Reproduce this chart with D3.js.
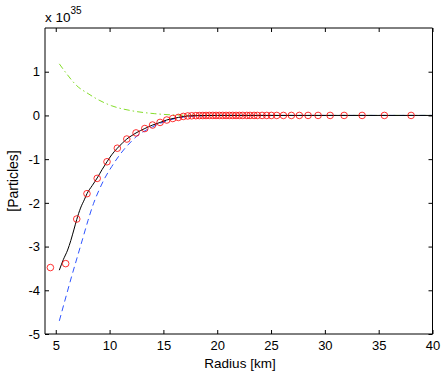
<!DOCTYPE html>
<html><head><meta charset="utf-8">
<script src="https://cdn.jsdelivr.net/npm/d3@7"></script>
<style>
body{margin:0;background:#fff;}
svg{display:block;font-family:"Liberation Sans",Arial,Helvetica,sans-serif;}
</style></head>
<body>
<svg id="chart" width="446" height="374"></svg>
<script>
// Data (units of 10^35 particles)
const circleX = [4.5,5.92,6.95,7.9,8.85,9.76,10.72,11.6,12.46,13.27,13.99,14.69,15.31,15.87,16.39,16.85,17.26,17.63,18.01,18.34,18.66,18.96,19.27,19.59,19.89,20.2,20.51,20.82,21.13,21.44,21.75,22.06,22.37,22.75,23.05,23.42,23.73,24.17,24.6,25.03,25.53,26.15,26.89,27.63,28.44,29.37,30.49,31.79,33.46,35.53,38.01];
const circleY = [-3.48,-3.39,-2.37,-1.79,-1.44,-1.06,-0.75,-0.54,-0.40,-0.30,-0.22,-0.16,-0.105,-0.07,-0.046,-0.023,-0.012,-0.008,-0.005,-0.003,-0.002,-0.001,0,0,0,0,0,0,0,0,0,0,0,0,0,0,0,0,0,0,0,0,0,0,0,0,0,0,0,0,0];
const blackX = [5.33,5.7,6.1,6.4,6.7,6.95,7.3,7.65,7.9,8.4,8.85,9.3,9.76,10.2,10.72,11.2,11.6,12.0,12.46,13.27,14.0,14.7,15.3,15.9,16.4,16.85,17.3,18,19,20,25,40];
const blackY = [-3.54,-3.3,-3.08,-2.86,-2.6,-2.38,-2.12,-1.93,-1.79,-1.6,-1.43,-1.24,-1.06,-0.9,-0.75,-0.63,-0.54,-0.47,-0.40,-0.30,-0.22,-0.16,-0.105,-0.07,-0.045,-0.025,-0.012,-0.005,-0.002,0,0,0];
const blueX = [5.33,6.0,6.5,7.0,7.5,8.0,8.5,9.0,9.5,10.2,10.8,11.3,12.0,12.5,13.3,14.0,14.7,15.5,16.5,17.5,19,20,40];
const blueY = [-4.70,-4.1,-3.66,-3.24,-2.82,-2.4,-2.02,-1.72,-1.46,-1.17,-0.95,-0.79,-0.6,-0.48,-0.35,-0.26,-0.18,-0.11,-0.05,-0.02,-0.005,0,0];
const greenX = [5.33,6.02,6.95,8.0,8.65,10.2,12.06,14.2,16.08,18,20,40];
const greenY = [1.18,0.95,0.68,0.5,0.40,0.22,0.107,0.04,0.01,0.002,0,0];
const xTicks = [5,10,15,20,25,30,35,40];
const yTicks = [-5,-4,-3,-2,-1,0,1];

const svg = d3.select("#chart");
const L=45, R=432.5, T=28, B=334;
const x = d3.scaleLinear().domain([4,40]).range([L,R]);
const y = d3.scaleLinear().domain([-5,2]).range([B,T]);

const g = svg.append("g");
const line = d3.line().x(d=>x(d[0])).y(d=>y(d[1])).curve(d3.curveMonotoneX);
const zip = (a,b)=>a.map((v,i)=>[v,b[i]]);

g.append("path").attr("d", line(zip(greenX,greenY))).attr("fill","none")
 .attr("stroke","#84dd2a").attr("stroke-width",1).attr("stroke-dasharray","6,3,1.5,3");
g.append("path").attr("d", line(zip(blueX,blueY))).attr("fill","none")
 .attr("stroke","#2f55ff").attr("stroke-width",1).attr("stroke-dasharray","6,4");
g.append("path").attr("d", line(zip(blackX,blackY))).attr("fill","none")
 .attr("stroke","#000").attr("stroke-width",1);
g.selectAll("circle.c").data(zip(circleX,circleY)).enter().append("circle")
 .attr("cx",d=>x(d[0])).attr("cy",d=>y(d[1])).attr("r",3.3)
 .attr("fill","none").attr("stroke","#ff0000").attr("stroke-width",0.8);

// axes (MATLAB box style, ticks inward)
const fs = "13px";
const axB = svg.append("g").attr("transform",`translate(0,${B})`)
 .call(d3.axisBottom(x).tickValues(xTicks).tickSize(-4).tickPadding(7).tickFormat(d3.format("d")));
const axT = svg.append("g").attr("transform",`translate(0,${T})`)
 .call(d3.axisTop(x).tickValues(xTicks).tickSize(-4).tickFormat(""));
const axL = svg.append("g").attr("transform",`translate(${L},0)`)
 .call(d3.axisLeft(y).tickValues(yTicks).tickSize(-4).tickPadding(5).tickFormat(d=>d<0?"-"+Math.abs(d):String(d)));
const axR = svg.append("g").attr("transform",`translate(${R},0)`)
 .call(d3.axisRight(y).tickValues(yTicks).tickSize(-4).tickFormat(""));
[axB,axT,axL,axR].forEach(a=>{
  a.select(".domain").attr("stroke","#000").attr("stroke-width",1);
  a.selectAll(".tick line").attr("stroke","#000");
  a.selectAll("text").attr("font-size",fs).attr("fill","#000").attr("font-family","Liberation Sans, Arial, sans-serif");
});
axB.selectAll(".domain").attr("d",`M${L},0H${R}`);
axT.selectAll(".domain").attr("d",`M${L},0H${R}`);
axL.selectAll(".domain").attr("d",`M0,${T}V${B}`);
axR.selectAll(".domain").attr("d",`M0,${T}V${B}`);

svg.append("text").attr("x",240).attr("y",368).attr("text-anchor","middle")
 .attr("font-size","13.5px").text("Radius [km]");
svg.append("text").attr("transform",`translate(18,${(T+B)/2}) rotate(-90)`).attr("text-anchor","middle")
 .attr("font-size","14px").text("[Particles]");
const ex = svg.append("text").attr("x",45).attr("y",22).attr("font-size","13.5px");
ex.append("tspan").text("x 10");
ex.append("tspan").attr("dy",-8).attr("font-size","10px").text("35");
</script>
</body></html>
